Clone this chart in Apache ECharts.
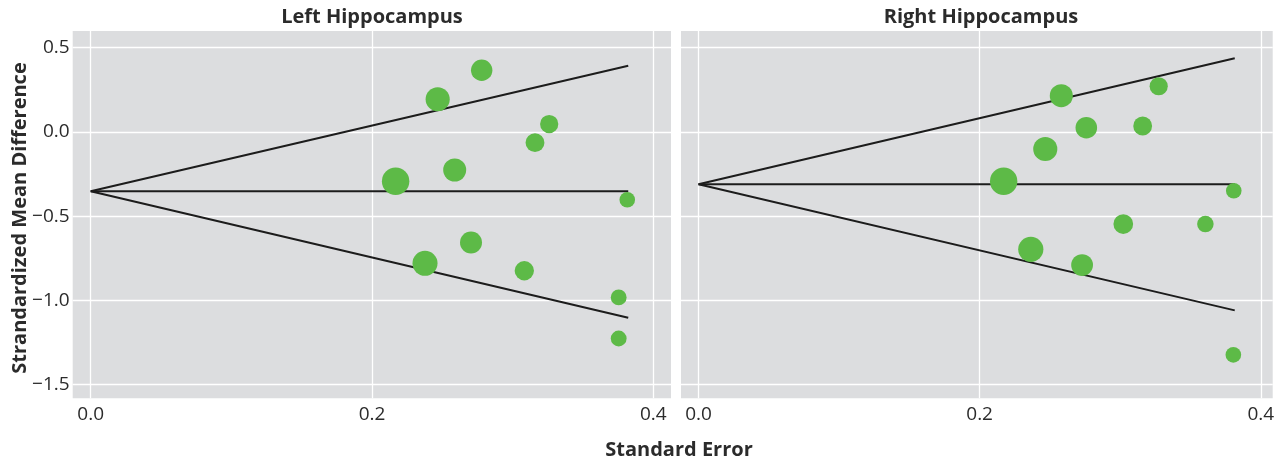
<!DOCTYPE html>
<html>
<head>
<meta charset="utf-8">
<script src="https://cdn.jsdelivr.net/npm/echarts@6/dist/echarts.min.js"></script>
<style>html,body{margin:0;padding:0;background:#fff}#c{width:1284px;height:460px}</style>
</head>
<body>
<div id="c"></div>
<script>
// ---- data ----
const panelTitles = ["Left Hippocampus", "Right Hippocampus"];
const xTitle = "Standard Error";
const yTitle = "Strandardized Mean Difference";

// [standard error, standardized mean difference]
const leftStudies = [
  [0.278, 0.366], [0.2467, 0.194], [0.326, 0.047], [0.3159, -0.064],
  [0.2588, -0.226], [0.2168, -0.293], [0.3815, -0.403], [0.2704, -0.656],
  [0.2377, -0.780], [0.3083, -0.824], [0.3754, -0.982], [0.3754, -1.226]
];
const rightStudies = [
  [0.2581, 0.215], [0.3274, 0.271], [0.2759, 0.025], [0.316, 0.035],
  [0.2467, -0.101], [0.2171, -0.293], [0.3808, -0.349], [0.3022, -0.547],
  [0.3606, -0.547], [0.2364, -0.697], [0.2729, -0.790], [0.3805, -1.323]
];
// funnel outline: upper end -> apex -> lower end ; centre line
const leftFunnel = [[0.3822, 0.393], [0, -0.352], [0.3822, -1.103]];
const leftCentre = [[0, -0.352], [0.3822, -0.352]];
const rightFunnel = [[0.3815, 0.437], [0, -0.311], [0.3815, -1.059]];
const rightCentre = [[0, -0.311], [0.3815, -0.311]];

const xRanges = [[-0.0128, 0.4126], [-0.01245, 0.4085]];
const yRange = [-1.581, 0.599];

// ---- styles ----
const FONT = "Open Sans";
const BG = "#dcdddf";
const GREEN = "#5dba47";
const LINE = "#1c1c1c";
const TXT = "#2b2b2b";
const TICK_FS = 19;
const TITLE_FONT = "bold 20px '" + FONT + "'";

const grids = [
  {left: 72.7, top: 31, width: 598.3, height: 367.3},
  {left: 681, top: 31, width: 591.7, height: 367.3}
].map(g => Object.assign({show: true, backgroundColor: BG, borderWidth: 0, containLabel: false}, g));

const xAxes = xRanges.map((r, i) => ({
  type: "value", gridIndex: i, min: r[0], max: r[1], splitNumber: 2,
  axisLine: {show: false}, axisTick: {show: false},
  axisLabel: {show: true, showMinLabel: false, showMaxLabel: false, margin: 7,
    color: TXT, fontFamily: FONT, fontSize: TICK_FS,
    formatter: v => v.toFixed(1)},
  splitLine: {show: true, showMinLine: false, showMaxLine: false, lineStyle: {color: "#ffffff", width: 1.3}}
}));
const yAxes = [0, 1].map(i => ({
  type: "value", gridIndex: i, min: yRange[0], max: yRange[1], splitNumber: 5,
  axisLine: {show: false}, axisTick: {show: false},
  axisLabel: {show: i === 0, showMinLabel: false, showMaxLabel: false, margin: 3,
    color: TXT, fontFamily: FONT, fontSize: TICK_FS,
    formatter: v => (v < 0 ? "\u2212" + Math.abs(v).toFixed(1) : v.toFixed(1))},
  splitLine: {show: true, showMinLine: false, showMaxLine: false, lineStyle: {color: "#ffffff", width: 1.3}}
}));

function lineSeries(data, i) {
  return {type: "line", xAxisIndex: i, yAxisIndex: i, data: data, symbol: "none",
    lineStyle: {color: LINE, width: 2}, silent: true, animation: false, z: 2};
}
function pointSeries(data, i) {
  return {type: "scatter", xAxisIndex: i, yAxisIndex: i, data: data,
    symbolSize: d => 5.95 / d[0],
    itemStyle: {color: GREEN, opacity: 1}, animation: false, z: 3};
}

const option = {
  backgroundColor: "#ffffff",
  animation: false,
  grid: grids,
  xAxis: xAxes,
  yAxis: yAxes,
  series: [
    lineSeries(leftFunnel, 0), lineSeries(leftCentre, 0), pointSeries(leftStudies, 0),
    lineSeries(rightFunnel, 1), lineSeries(rightCentre, 1), pointSeries(rightStudies, 1)
  ],
  graphic: [
    {type: "text", x: 372, y: 17, style: {text: panelTitles[0], align: "center", verticalAlign: "middle",
      font: TITLE_FONT, fill: TXT}},
    {type: "text", x: 981, y: 17, style: {text: panelTitles[1], align: "center", verticalAlign: "middle",
      font: TITLE_FONT, fill: TXT}},
    {type: "text", x: 679, y: 450, style: {text: xTitle, align: "center", verticalAlign: "middle",
      font: TITLE_FONT, fill: TXT}},
    {type: "text", x: 20, y: 218, rotation: Math.PI / 2, style: {text: yTitle, align: "center", verticalAlign: "middle",
      font: TITLE_FONT, fill: TXT}}
  ]
};

const chart = echarts.init(document.getElementById("c"), null, {renderer: "canvas"});
chart.setOption(option);
</script>
</body>
</html>
